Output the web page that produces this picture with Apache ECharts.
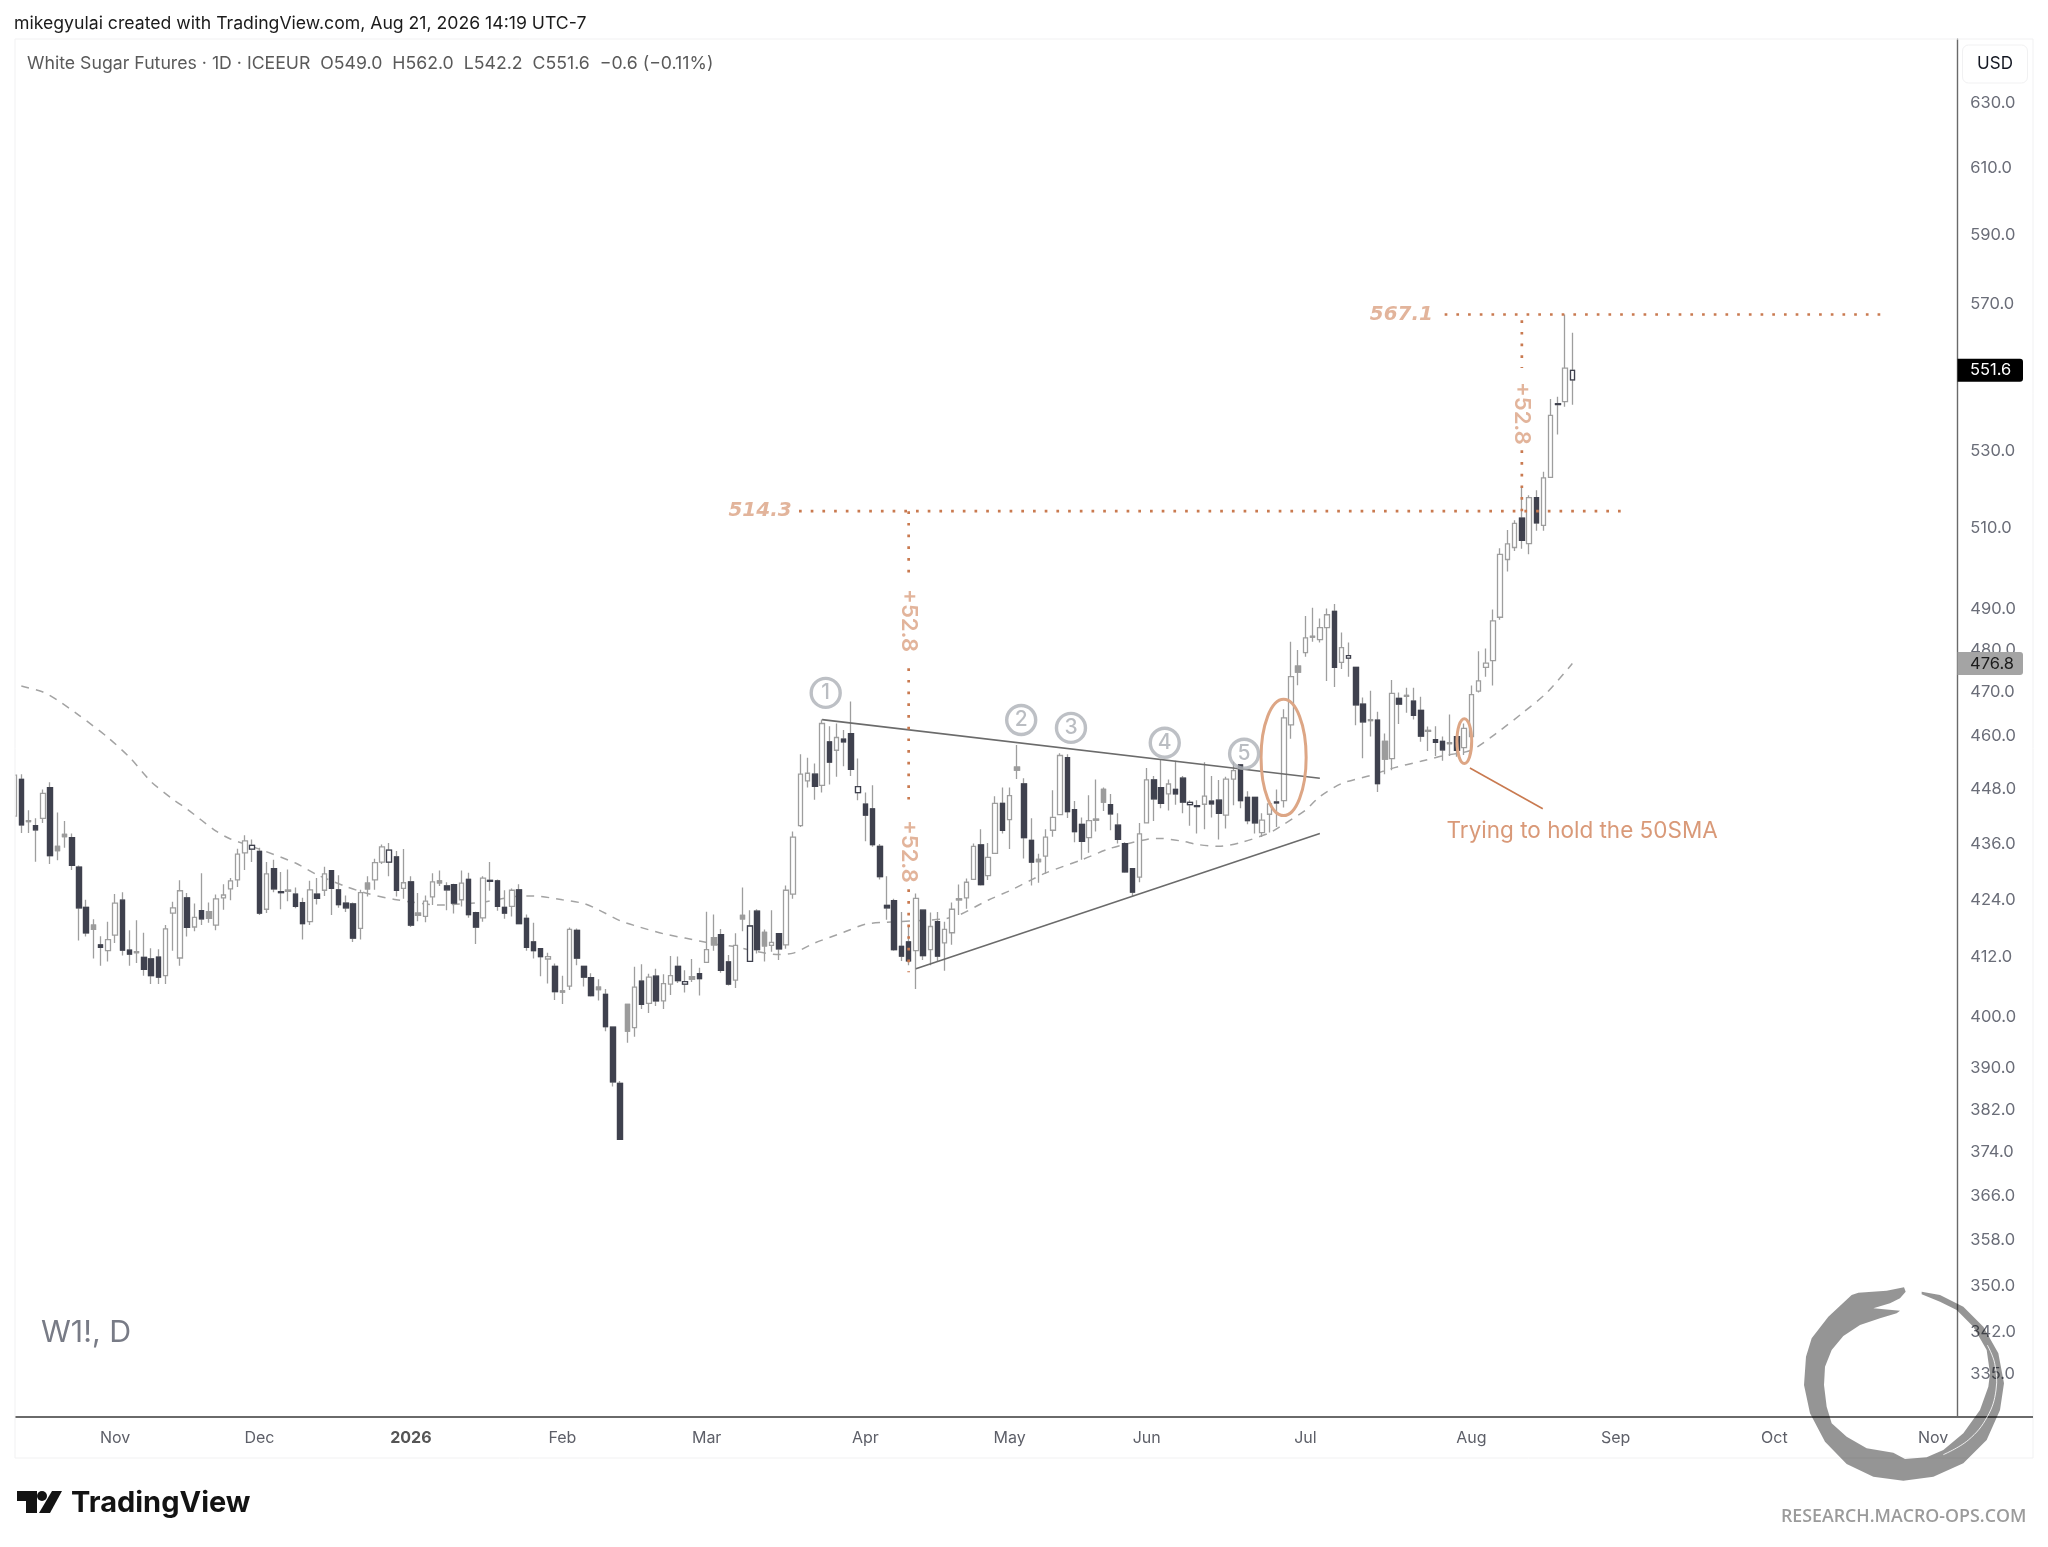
<!DOCTYPE html>
<html>
<head>
<meta charset="utf-8">
<style>html,body{margin:0;padding:0;background:#fff}#c{width:2048px;height:1547px}</style>
<script src="https://cdn.jsdelivr.net/npm/echarts@6/dist/echarts.min.js"></script>
</head>
<body>
<div id="c"></div>
<script>
// ---------- categories ----------
const firstSession = '2025-10-14';
const sessionCount = 270;
const holidays = ['2025-12-25','2025-12-26','2026-01-01','2026-04-03','2026-04-06','2026-05-04','2026-05-25','2026-08-31'];
const monthTicks = {'2025-11-03':'Nov','2025-12-01':'Dec','2026-01-02':'2026','2026-02-02':'Feb','2026-03-02':'Mar','2026-04-01':'Apr','2026-05-01':'May','2026-06-01':'Jun','2026-07-01':'Jul','2026-08-03':'Aug','2026-09-01':'Sep','2026-10-01':'Oct','2026-11-02':'Nov'};
const priceTicks = [630,610,590,570,530,510,490,480,470,460,448,436,424,412,400,390,382,374,366,358,350,342,335];

// ---------- daily candles: [open, close, low, high] ----------
const candles = [
[442.0,451.1,442.0,451.1],[450.1,440.1,438.3,451.3],[441.0,440.8,438.3,443.3],[439.9,439.0,432.1,441.5],[441.5,447.0,440.5,447.9],
[448.3,433.4,431.6,449.5],[435.4,434.5,432.4,442.8],[438.0,437.5,435.1,440.9],[437.3,431.3,430.3,438.2],[430.9,422.3,415.5,431.3],
[422.4,417.1,416.3,424.0],[418.7,417.8,411.8,419.9],[414.6,414.1,410.3,416.4],[413.4,415.7,411.2,419.4],[416.6,423.3,415.0,425.2],
[423.9,413.5,412.4,425.6],[413.5,412.7,410.3,417.6],[413.2,413.0,410.9,419.7],[412.0,409.6,408.3,417.1],[411.7,408.3,406.6,413.9],
[412.1,408.0,406.6,413.7],[408.3,417.9,406.6,418.7],[421.2,422.3,413.4,423.6],[411.9,425.9,410.3,428.1],[424.4,418.2,416.3,425.4],
[418.3,420.3,417.4,423.2],[421.7,420.0,418.7,429.6],[421.5,420.1,419.2,423.4],[418.7,424.2,417.6,425.1],[424.4,425.0,421.9,427.3],
[426.3,428.0,423.9,428.6],[428.2,433.7,426.7,434.9],[434.0,436.6,430.3,437.8],[434.8,435.6,432.0,436.9],[434.3,421.2,420.8,435.1],
[422.0,429.5,421.2,432.0],[430.6,426.3,425.6,432.5],[425.7,425.5,422.0,429.9],[426.0,425.8,423.7,430.4],[425.2,422.6,422.2,426.6],
[423.4,419.0,415.7,424.4],[419.4,426.1,418.7,428.0],[425.2,424.3,423.0,428.6],[426.0,429.5,424.8,431.0],[430.2,426.4,420.8,430.2],
[426.1,423.0,422.3,429.2],[423.3,422.3,421.4,424.9],[423.1,416.0,415.2,423.4],[418.0,425.5,415.7,426.1],[427.5,426.3,424.7,429.0],
[428.2,431.9,426.1,432.7],[432.0,435.3,431.6,435.8],[432.0,434.6,429.0,436.1],[433.1,426.0,424.7,434.4],[426.4,427.6,424.2,434.8],
[427.8,418.7,418.3,429.0],[421.2,420.7,419.5,425.4],[420.5,423.7,419.3,424.9],[424.6,427.8,422.9,429.6],[428.0,427.6,426.9,430.2],
[426.9,426.1,421.8,427.7],[427.2,423.3,421.1,427.4],[424.0,427.5,422.6,430.2],[428.3,420.9,420.2,429.7],[421.3,418.3,414.8,421.5],
[420.2,428.6,419.4,429.0],[428.1,427.9,425.9,432.0],[428.0,422.6,421.7,428.3],[422.4,421.2,420.0,426.0],[422.6,426.0,420.5,426.4],
[426.1,419.0,419.0,427.3],[420.1,414.1,413.4,420.9],[415.2,413.4,411.8,419.2],[413.8,412.2,408.2,413.9],[411.7,412.2,406.7,413.0],
[410.2,405.1,403.4,410.8],[405.2,405.0,402.6,408.3],[406.2,417.8,405.4,418.2],[417.6,411.9,410.4,418.0],[410.2,408.0,406.1,410.2],
[407.9,404.3,404.1,408.8],[406.0,405.5,403.3,407.6],[404.5,398.1,397.2,405.6],[398.0,387.3,386.4,398.1],[387.0,376.4,376.3,387.5],
[402.5,397.2,394.9,402.6],[397.9,406.0,396.1,410.1],[407.2,402.5,401.6,410.6],[402.7,408.0,400.8,408.7],[408.2,403.2,402.2,409.7],
[403.2,406.7,401.6,408.6],[406.6,408.3,404.4,412.3],[410.2,407.3,406.8,412.2],[406.6,407.1,404.9,409.4],[408.1,407.6,407.0,411.7],
[408.7,407.7,404.3,409.9],[411.0,413.6,411.0,421.5],[416.1,414.6,413.4,420.9],[416.7,409.4,408.9,417.9],[411.1,406.6,406.3,412.5],
[407.4,414.5,405.8,417.0],[420.7,420.0,417.4,426.6],[411.2,418.5,411.2,421.8],[421.6,413.6,412.8,422.0],[417.2,414.4,411.2,417.8],
[414.5,415.1,413.2,421.8],[416.9,413.8,411.5,417.0],[414.6,426.0,413.8,427.0],[425.2,437.4,424.2,438.6],[439.9,451.3,439.6,455.8],
[449.8,451.5,448.3,455.0],[451.3,448.6,445.6,453.7],[448.8,462.8,447.2,463.7],[458.6,454.0,449.0,462.2],[456.7,459.6,450.7,462.8],
[459.2,458.6,453.1,461.3],[460.5,452.4,450.9,467.9],[447.2,448.5,445.5,454.8],[444.6,442.2,436.5,447.2],[443.6,435.8,435.3,448.8],
[435.4,428.9,428.3,435.9],[422.8,422.3,419.8,429.0],[423.8,413.6,413.4,424.2],[414.3,412.3,411.3,421.4],[415.2,411.3,410.4,418.3],
[413.4,424.3,405.6,425.3],[421.8,412.4,411.5,421.8],[413.6,418.4,410.4,421.3],[419.4,412.3,411.1,421.4],[415.0,417.8,409.3,419.4],
[417.1,422.0,414.6,423.4],[424.2,424.0,420.8,427.2],[424.4,427.7,422.1,428.5],[428.3,435.4,428.3,436.0],[435.7,427.2,427.0,439.1],
[429.1,433.0,428.2,436.1],[433.9,444.8,433.8,446.4],[444.8,438.9,438.2,448.3],[441.2,446.5,434.8,448.3],[452.9,452.2,450.2,457.9],
[449.1,437.3,432.8,450.4],[436.7,432.0,427.0,441.5],[432.6,432.1,427.6,433.8],[433.3,437.4,429.5,439.1],[438.9,441.7,437.5,447.7],
[442.3,455.5,442.2,456.0],[455.0,443.0,441.6,455.8],[443.4,438.6,436.3,445.3],[440.2,436.5,432.5,441.7],[437.3,441.0,434.0,446.6],
[441.3,441.1,438.6,450.1],[447.9,445.1,443.1,448.3],[444.5,442.5,438.9,446.9],[440.0,436.9,436.0,442.6],[436.0,429.9,429.7,436.3],
[430.6,425.6,424.7,430.6],[428.8,438.1,427.7,440.5],[440.5,450.0,440.5,452.7],[450.0,445.8,440.9,450.9],[448.3,444.8,443.7,454.7],
[446.9,449.1,443.2,450.1],[447.9,446.9,444.5,454.3],[450.4,445.1,442.6,450.9],[444.5,445.0,439.9,445.5],[444.3,444.1,438.2,445.5],
[444.6,446.4,439.1,454.0],[445.3,444.7,441.7,450.9],[445.5,442.6,436.9,450.0],[442.2,450.2,439.3,450.7],[450.2,452.1,444.4,454.1],
[453.4,445.4,443.7,453.6],[446.1,441.0,440.2,447.5],[446.1,440.5,438.2,446.2],[438.4,441.1,437.4,442.6],[442.4,444.7,438.4,445.5],
[445.1,444.9,439.6,447.9],[445.4,464.1,443.9,466.1],[462.5,473.7,459.3,482.0],[476.2,474.8,471.7,480.0],[479.4,482.9,478.4,488.2],
[483.3,483.1,482.0,490.2],[482.5,485.4,481.8,487.6],[485.4,488.5,472.7,490.0],[489.3,475.9,471.3,491.1],[477.1,480.6,475.5,484.2],
[478.1,478.7,473.7,481.8],[475.9,467.1,462.4,475.9],[467.3,463.2,454.9,468.8],[463.7,463.5,459.8,470.4],[463.6,449.2,447.3,465.5],
[458.7,454.7,451.3,460.5],[454.8,469.8,452.2,472.9],[468.6,467.3,462.7,470.0],[469.3,469.1,465.3,471.1],[468.0,464.7,463.7,471.1],
[465.8,459.9,458.6,469.0],[461.2,461.0,456.5,462.1],[459.1,458.5,455.4,462.2],[458.7,456.8,454.3,459.8],[458.4,458.2,455.4,464.9],
[459.8,456.7,455.2,459.9],[457.3,461.7,455.6,462.8],[459.8,469.5,459.6,471.6],[470.3,472.7,470.0,479.7],[475.9,476.9,473.7,480.4],
[477.5,487.0,471.6,489.8],[487.9,503.4,487.3,504.9],[502.1,506.0,499.1,509.5],[505.1,511.2,504.2,512.0],[512.5,506.9,504.8,520.6],
[506.1,517.8,503.4,518.4],[517.8,511.3,509.3,519.7],[510.7,522.9,509.3,524.5],[523.0,539.4,523.0,543.8],[542.5,542.3,534.3,544.4],
[543.1,552.2,541.7,567.1],[549.0,551.6,542.2,562.0]
];
// session indices whose body is filled mid grey / outlined dark
const greyFilled = [2,6,7,11,17,27,38,49,56,59,76,81,85,94,97,101,104,131,139,142,150,151,178,180,188,190,193,196,199];
const darkOutlined = [33,52,93,102,117,163,185,216];

// ---------- 50 SMA: [session, value] ----------
const sma50 = [[1,471.5],[4,470.1],[6,468.2],[9,464.7],[13,459.6],[16,455.1],[19,449.6],[22,445.7],[24,443.5],[28,438.7],[30,437.0],[34,434.8],[39,431.8],[42,429.3],[46,426.8],[49,425.3],[53,424.0],[59,422.9],[65,423.5],[69,424.6],[72,424.8],[76,424.0],[79,423.2],[81,421.9],[84,419.6],[86,418.6],[90,416.9],[93,416.0],[97,414.8],[100,414.2],[103,413.2],[106,412.6],[108,412.9],[111,415.0],[115,417.2],[118,418.9],[121,419.3],[125,419.6],[129,420.0],[131,420.8],[135,423.9],[138,425.9],[141,428.2],[143,429.7],[148,432.5],[152,435.0],[157,436.9],[159,437.1],[162,436.5],[164,435.8],[167,435.4],[170,436.2],[174,438.3],[176,440.2],[179,443.3],[181,446.3],[184,449.2],[188,451.0],[191,452.6],[195,454.2],[198,455.4],[202,456.7],[205.5,460.6],[209,465.1],[212.5,470.0],[216,476.8]];

// ---------- drawings (session, price) ----------
const trendLines = [[[112,463.7],[181,450.4]],[[125,409.7],[181,438.2]]];
const dottedLines = [
 [[108.8,514.3],[223,514.3]], [[198.3,567.1],[259,567.1]],
 [[124,514.3],[124,498.4]], [[124,475.7],[124,443.7]], [[124,426.2],[124,409.0]],
 [[209,565.5],[209,552.2]], [[209,530.1],[209,514.3]]
];
const noteLine = [[201.8,452.7],[211.9,443.6]];
const ellipses = [[172.85,179.1,442.1,468.4],[200,202.05,453.7,463.9]];
const numberedPoints = [[112.5,469.9,'1'],[139.6,463.6,'2'],[146.5,461.8,'3'],[159.5,458.4,'4'],[170.5,455.9,'5']];
const levelLabels = [[103.4,514.3,'514.3'],[192.3,567.1,'567.1']];
const moveLabels = [[124,487.1,'+52.8'],[124,434.3,'+52.8'],[209,539.9,'+52.8']];
const noteLabel = [198.5,438.7,'Trying to hold the 50SMA'];
const lastClose = 551.6, lastSma = 476.8;
const headerText = 'White Sugar Futures · 1D · ICEEUR  O549.0  H562.0  L542.2  C551.6  −0.6 (−0.11%)';

// ---------- build ----------
const FONT = 'Inter, "Noto Sans", sans-serif';
const categories = [];
for (let d = new Date(firstSession + 'T00:00:00Z'); categories.length < sessionCount; d.setUTCDate(d.getUTCDate() + 1)) {
  const s = d.toISOString().slice(0, 10), w = d.getUTCDay();
  if (w !== 0 && w !== 6 && !holidays.includes(s)) categories.push(s);
}
const DARK = '#3f414e', GREY = '#9e9e9e', MID = '#9c9c9c';
const bodies = candles.map((c, i) => {
  const filled = c[1] < c[0], g = greyFilled.includes(i), o = darkOutlined.includes(i);
  if (g) return {value:[c[0],c[1],Math.min(c[0],c[1]),Math.max(c[0],c[1])], itemStyle:{color:MID,color0:MID,borderColor:MID,borderColor0:MID,borderColorDoji:GREY}};
  if (o) return {value:[c[0],c[1],Math.min(c[0],c[1]),Math.max(c[0],c[1])], itemStyle:{color:'#fff',color0:'#fff',borderColor:DARK,borderColor0:DARK,borderColorDoji:DARK}};
  if (filled) return {value:[c[0],c[1],Math.min(c[0],c[1]),Math.max(c[0],c[1])], itemStyle:{color:DARK,color0:DARK,borderColor:DARK,borderColor0:DARK,borderColorDoji:DARK}};
  return {value:['-','-','-','-']};
});
const lineSeries = (data, color, width, type, z) => ({type:'line',xAxisIndex:1,data,symbol:'none',silent:true,clip:true,z,animation:false,lineStyle:{color,width,type}});
const NOMARK = {symbol:'circle',symbolSize:1,itemStyle:{color:'rgba(255,255,255,0)'}};
const textSeries = (rows, label) => Object.assign({type:'scatter',xAxisIndex:1,z:8,silent:true,animation:false,clip:false,data:rows.map(r=>({value:[r[0],r[1]],label:{show:true,formatter:r[2],...label}}))},NOMARK);

const DOT = '#c97a50', SOFT = '#dba182';
const series = [
  Object.assign(lineSeries(sma50, '#a3a3a3', 1.5, [8,7], 2), {smooth:0.25}),
  {type:'candlestick',xAxisIndex:0,data:candles,barWidth:5,z:3,silent:true,animation:false,clip:true,
   itemStyle:{color:'#fff',color0:'#fff',borderColor:GREY,borderColor0:GREY,borderColorDoji:GREY,borderWidth:1.3}},
  {type:'candlestick',xAxisIndex:0,data:bodies,barWidth:5,z:4,silent:true,animation:false,clip:true,itemStyle:{borderWidth:1.3}},
  ...trendLines.map(l => lineSeries(l, '#6b6b6b', 1.6, 'solid', 5)),
  lineSeries(noteLine, DOT, 1.6, 'solid', 5),
  ...dottedLines.map(l => lineSeries(l, DOT, 2.7, [2.7,9], 5)),
  {type:'custom',xAxisIndex:1,z:6,silent:true,animation:false,clip:false,data:ellipses,
   renderItem:(p,api)=>{
     const a=api.coord([api.value(0),api.value(3)]), b=api.coord([api.value(1),api.value(2)]);
     return {type:'ellipse',shape:{cx:(a[0]+b[0])/2,cy:(a[1]+b[1])/2,rx:(b[0]-a[0])/2,ry:(b[1]-a[1])/2},style:{fill:'none',stroke:'#dda685',lineWidth:3}};
   },encode:{x:[0,1],y:[2,3]}},
  {type:'scatter',xAxisIndex:1,z:7,silent:true,animation:false,clip:false,symbol:'circle',symbolSize:29,
   data:numberedPoints.map(r=>({value:[r[0],r[1]],label:{show:true,formatter:r[2],position:'inside',color:'#a9acb3',fontSize:21,fontFamily:FONT,fontWeight:500}})),
   itemStyle:{color:'rgba(255,255,255,0)',borderColor:'#adb0b7',borderWidth:3.4}},
  textSeries(levelLabels,{position:'inside',color:SOFT,fontFamily:'"DejaVu Sans", sans-serif',fontSize:20,fontWeight:'bold',fontStyle:'italic'}),
  textSeries(moveLabels,{position:'inside',rotate:-90,color:SOFT,fontFamily:FONT,fontSize:22,fontWeight:600}),
  Object.assign({type:'scatter',xAxisIndex:1,z:8,silent:true,animation:false,clip:false,
   data:[{value:[noteLabel[0],noteLabel[1]],label:{show:true,formatter:noteLabel[2],position:'right',distance:0,color:'#cf8056',fontFamily:FONT,fontSize:22.5}}]},NOMARK),
  {type:'custom',xAxisIndex:1,z:20,silent:true,animation:false,clip:false,
   data:[[269.5,lastSma,0],[269.5,lastClose,1]],encode:{x:0,y:1},
   renderItem:(p,api)=>{
     const c=api.coord([api.value(0),api.value(1)]), black=api.value(2)===1;
     const x=1957.5, y=c[1]-11.5;
     return {type:'group',children:[
       {type:'rect',shape:{x,y,width:65.5,height:23,r:[0,3,3,0]},style:{fill:black?'#000':'#a4a4a4'}},
       {type:'text',style:{x:x+12.5,y:c[1],text:api.value(1).toFixed(1),fontFamily:FONT,fontSize:16.5,fill:black?'#fff':'#1c1c1c',verticalAlign:'middle',align:'left'}}
     ]};
   }}
];

// ouroboros outline of the watermark
const ring = [[665,95],[720,105],[790,140],[850,200],[895,280],[912,370],[900,450],[860,540],[790,610],[700,650],[610,662],[520,650],[440,612],[375,545],[330,460],[312,375],[318,290],[335,235],[385,170],[455,105],[475,98],[560,92],[612,82],[617,95],[600,115],[570,130],[520,145],[600,152],[590,160],[540,175],[480,195],[430,228],[395,270],[375,320],[372,375],[380,440],[395,490],[440,530],[500,565],[580,578],[615,597],[680,592],[730,570],[790,520],[840,450],[865,380],[870,340],[860,270],[820,200],[770,150],[720,125],[665,103]];
const slit = [[862,255],[884,310],[888,390],[862,470],[805,540],[730,584]];

const txt = (x,y,text,o={}) => ({type:'text',x,y,z:30,silent:true,style:Object.assign({text,fontFamily:FONT,fontSize:17,fill:'#555',verticalAlign:'middle'},o)});

const graphic = [
  {type:'rect',shape:{x:0,y:30,width:15,height:1440},style:{fill:'#fff'},z:25,silent:true},
  {type:'rect',shape:{x:15,y:39,width:2018,height:1419},style:{fill:'none',stroke:'#f1f1f2',lineWidth:1},z:26,silent:true},
  {type:'line',shape:{x1:1958,y1:1417,x2:2033,y2:1417},style:{stroke:'#6a6a6a',lineWidth:2},z:26,silent:true},
  txt(14,24,'mikegyulai created with TradingView.com, Aug 21, 2026 14:19 UTC-7',{fontSize:17.65,fill:'#1b1b1b'}),
  txt(27,64,headerText,{fontSize:17.7,fill:'#5a5a5a'}),
  txt(41,1333,'W1!, D',{fontSize:30.3,fill:'#787b86'}),
  {type:'rect',shape:{x:1962.5,y:45,width:65,height:38,r:6},style:{fill:'#fff',stroke:'#f1f1f2',lineWidth:1},z:29,silent:true},
  txt(1995,64,'USD',{align:'center',fontSize:17,fill:'#131722'}),
  // logo
  {type:'polygon',z:30,silent:true,shape:{points:[[17,1491],[37,1491],[37,1513],[26,1513],[26,1501],[17,1501]]},style:{fill:'#131313'}},
  {type:'circle',z:30,silent:true,shape:{cx:42,cy:1496,r:5},style:{fill:'#131313'}},
  {type:'polygon',z:30,silent:true,shape:{points:[[52,1491],[62,1491],[50,1513],[39,1513]]},style:{fill:'#131313'}},
  txt(71,1503,'TradingView',{fontSize:29,fontWeight:'bold',fill:'#131313',fontFamily:'Inter, sans-serif'}),
  txt(1781,1517,'RESEARCH.MACRO-OPS.COM',{fontSize:17.8,fontWeight:600,fill:'#9b9b9b',fontFamily:'"Open Sans", sans-serif'}),
  {type:'group',x:1700,y:1260,scaleX:1/3,scaleY:1/3,z:40,silent:true,children:[
    {type:'polygon',z:40,silent:true,shape:{points:ring},style:{fill:'#959595',blend:'multiply'}},
    {type:'polyline',z:41,silent:true,shape:{points:slit,smooth:0.4},style:{fill:'none',stroke:'#fff',lineWidth:2.5}}
  ]}
];

const chart = echarts.init(document.getElementById('c'), null, {renderer:'canvas',width:2048,height:1547});
chart.setOption({
  animation:false,
  backgroundColor:'#fff',
  grid:{left:10.5,right:89.7,top:39,bottom:130,containLabel:false},
  xAxis:[
    {type:'category',data:categories,boundaryGap:true,
     axisLine:{show:true,lineStyle:{color:'#6a6a6a',width:2}},axisTick:{show:false},splitLine:{show:false},
     axisLabel:{show:true,margin:13,interval:i=>categories[i] in monthTicks,fontFamily:FONT,fontSize:16,color:'#5d5f68',hideOverlap:false,
       showMinLabel:true,showMaxLabel:true,
       formatter:v=>{const t=monthTicks[v]||'';return t==='2026'?'{b|2026}':t;},
       rich:{b:{fontWeight:'bold',fontSize:16,fontFamily:FONT,color:'#555'}}}},
    {type:'value',min:-0.5,max:269.5,show:false,position:'top',splitLine:{show:false}}
  ],
  yAxis:{type:'log',logBase:10,min:327.9,max:650.3,position:'right',offset:-1.3,scale:true,
    axisLine:{show:true,onZero:false,lineStyle:{color:'#6a6a6a',width:1.4}},axisTick:{show:false},
    minorTick:{show:false},minorSplitLine:{show:false},
    splitLine:{show:false},
    axisLabel:{show:true,margin:13.3,customValues:priceTicks,showMinLabel:true,showMaxLabel:true,hideOverlap:false,formatter:v=>Number(v).toFixed(1),fontFamily:FONT,fontSize:16.5,color:'#6a6d78'}},
  series,
  graphic
});
</script>
</body>
</html>
